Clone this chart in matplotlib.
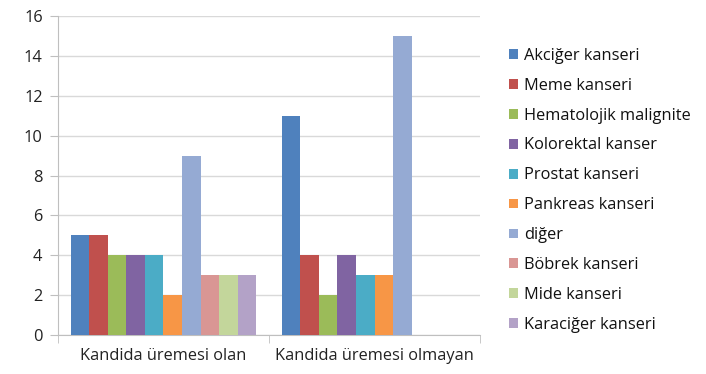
import numpy as np
import matplotlib
matplotlib.use("Agg")
import matplotlib.pyplot as plt

plt.rcParams['font.family'] = ['Open Sans', 'DejaVu Sans']

# ── data ────────────────────────────────────────────────────────────────────
groups = ["Kandida üremesi olan", "Kandida üremesi olmayan"]
series = ["Akciğer kanseri", "Meme kanseri", "Hematolojik malignite",
          "Kolorektal kanser", "Prostat kanseri", "Pankreas kanseri",
          "diğer", "Böbrek kanseri", "Mide kanseri", "Karaciğer kanseri"]
olan    = [5, 5, 4, 4, 4, 2, 9, 3, 3, 3]
olmayan = [11, 4, 2, 4, 3, 3, 15, 0, 0, 0]
yticks = [0, 2, 4, 6, 8, 10, 12, 14, 16]

colors = ["#4F81BD", "#C0504D", "#9BBB59", "#8064A2", "#4BACC6",
          "#F79646", "#95AAD3", "#D99694", "#C3D69B", "#B3A2C7"]

# ── plot ────────────────────────────────────────────────────────────────────
fig = plt.figure(figsize=(7.06, 3.74), dpi=100)
ax = fig.add_axes([0.082, 0.104, 0.598, 0.853])

x = np.arange(len(groups))
n = len(series)
w = 0.088
for i, name in enumerate(series):
    vals = [olan[i], olmayan[i]]
    ax.bar(x - w * n / 2 + w * (i + 0.5), vals, width=w, color=colors[i],
           label=name, zorder=3)

ax.set_xlim(-0.5, 1.5)
ax.set_ylim(0, 16)
ax.set_yticks(yticks)
ax.set_xticks(x)
ax.set_xticklabels(groups)
ax.set_xticks([-0.5, 0.5, 1.5], minor=True)
ax.tick_params(axis="x", which="major", length=0, pad=9, labelsize=11.8, colors="#222222")
ax.tick_params(axis="x", which="minor", length=6, color="#BFBFBF")
ax.tick_params(axis="y", length=6, labelsize=11.8, pad=5, colors="#222222")
ax.tick_params(axis="y", color="#BFBFBF")
ax.grid(axis="y", color="#D9D9D9", linewidth=1, zorder=0)

for s in ["top", "right"]:
    ax.spines[s].set_visible(False)
for s in ["left", "bottom"]:
    ax.spines[s].set_color("#BFBFBF")

fig.legend(loc="upper left", bbox_to_anchor=(0.712, 0.89), frameon=False,
           fontsize=11.8, handlelength=0.55, handleheight=0.55,
           handletextpad=0.35, labelspacing=0.85, borderaxespad=0,
           labelcolor="#111111")

plt.savefig("out.png", dpi=100)
